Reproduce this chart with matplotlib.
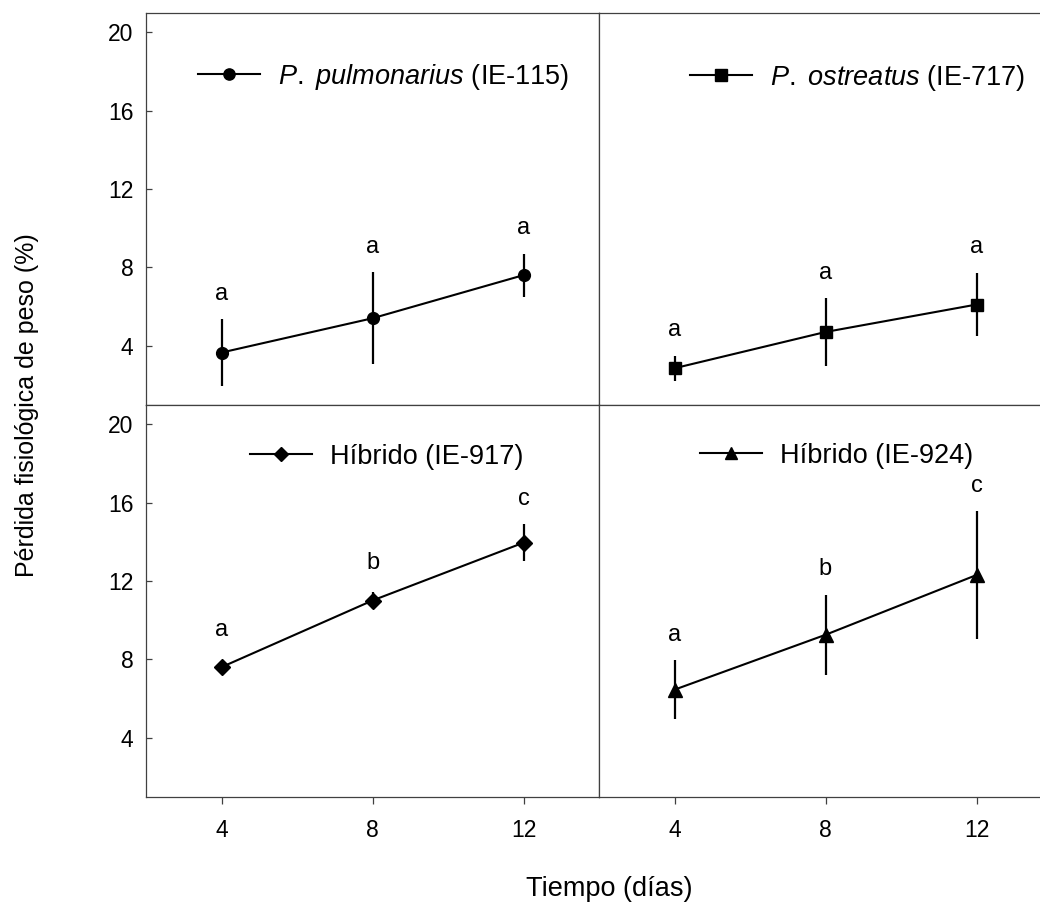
import matplotlib
matplotlib.use("Agg")
import matplotlib.pyplot as plt

plt.rcParams['font.family'] = ['Liberation Sans', 'DejaVu Sans']
plt.rcParams['mathtext.fontset'] = 'custom'
plt.rcParams['mathtext.it'] = 'Liberation Sans:italic'
plt.rcParams['mathtext.rm'] = 'Liberation Sans'

# data
dias = [4, 8, 12]

pulm_mean = [3.65, 5.4, 7.6]
pulm_sd = [1.7, 2.35, 1.1]
pulm_let = ['a', 'a', 'a']

ostr_mean = [2.85, 4.7, 6.1]
ostr_sd = [0.65, 1.72, 1.63]
ostr_let = ['a', 'a', 'a']

h917_mean = [7.6, 11.0, 13.95]
h917_sd = [0.2, 0.45, 0.95]
h917_let = ['a', 'b', 'c']

h924_mean = [6.45, 9.25, 12.3]
h924_sd = [1.5, 2.05, 3.25]
h924_let = ['a', 'b', 'c']

names = [r'$P.$ $pulmonarius$ (IE-115)', r'$P.$ $ostreatus$ (IE-717)',
         'Híbrido (IE-917)', 'Híbrido (IE-924)']

W, H = 1040, 907
fig = plt.figure(figsize=(W / 100, H / 100), dpi=100)

pw, ph = 453, 392
lefts = [146, 599]
tops = [12.5, 404.5]


def make_ax(left_px, top_px):
    return fig.add_axes([left_px / W, 1 - (top_px + ph) / H, pw / W, ph / H])


axes = [make_ax(lefts[0], tops[0]), make_ax(lefts[1], tops[0]),
        make_ax(lefts[0], tops[1]), make_ax(lefts[1], tops[1])]

series = [(pulm_mean, pulm_sd, pulm_let, 'o', 8.5),
          (ostr_mean, ostr_sd, ostr_let, 's', 8.5),
          (h917_mean, h917_sd, h917_let, 'D', 8.0),
          (h924_mean, h924_sd, h924_let, '^', 9.5)]

leg_pos = [(0.115, 0.836), (0.201, 0.834), (0.23, 0.867), (0.223, 0.869)]

for i, ax in enumerate(axes):
    m, sd, let, mk, ms = series[i]
    eb = ax.errorbar(dias, m, yerr=sd, fmt='-', marker=mk, color='k', ms=ms,
                     lw=1.5, elinewidth=1.6, capsize=0)
    for x, y, s, t in zip(dias, m, sd, let):
        ax.text(x, y + max(s, 0.6) + 1.3, t, ha='center', va='center',
                fontsize=17)
    ax.set_xlim(2, 14)
    ax.set_ylim(1, 21)
    ax.set_xticks([4, 8, 12])
    ax.set_yticks([4, 8, 12, 16, 20])
    for sp in ax.spines.values():
        sp.set_color('#404040')
        sp.set_linewidth(0.9)
    ax.tick_params(axis='x', direction='out', length=5, width=0.9,
                   color='#404040', labelsize=16.5, pad=11)
    ax.tick_params(axis='y', direction='in', length=4.5, width=0.9,
                   color='#404040', labelsize=16.5, pad=9)
    if i < 2:
        ax.tick_params(axis='x', labelbottom=False)
    if i % 2 == 1:
        ax.tick_params(axis='y', left=False, labelleft=False)
    ax.legend(handles=[eb[0]], labels=[names[i]], loc='center left',
              bbox_to_anchor=leg_pos[i], frameon=False, fontsize=19.5,
              borderpad=0, borderaxespad=0, handlelength=2.3,
              handletextpad=0.65, markerscale=0.95)

fig.text(609 / W, 1 - 889 / H, 'Tiempo (días)', ha='center', va='center',
         fontsize=19.5)
fig.text(27 / W, 1 - 405 / H, 'Pérdida fisiológica de peso (%)',
         rotation=90, ha='center', va='center', fontsize=18)

fig.savefig('out.png', dpi=100)
